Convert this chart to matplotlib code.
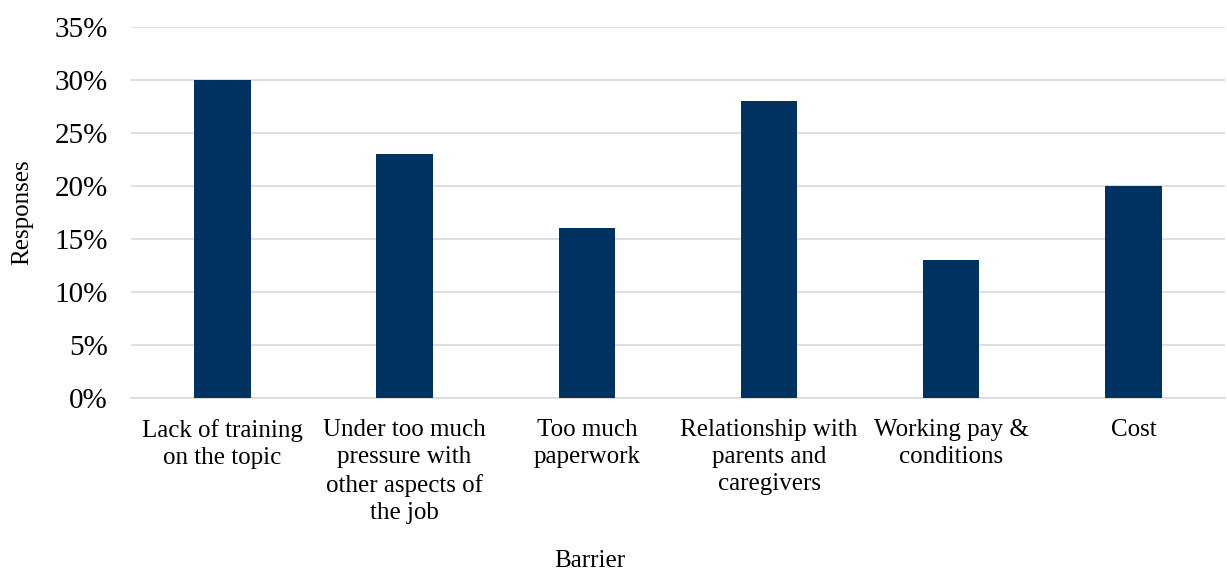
import matplotlib.pyplot as plt
from matplotlib.ticker import PercentFormatter

plt.rcParams['font.family'] = ['Liberation Serif', 'DejaVu Serif']

# Chart data
barriers = [
    "Lack of training\non the topic",
    "Under too much\npressure with\nother aspects of\nthe job",
    "Too much\npaperwork",
    "Relationship with\nparents and\ncaregivers",
    "Working pay &\nconditions",
    "Cost",
]
responses = [30, 23, 16, 28, 13, 20]

fig = plt.figure(figsize=(12.27, 5.73), dpi=100)
ax = fig.add_axes([0.107, 0.305, 0.891, 0.648])

x = range(len(barriers))
ax.bar(x, responses, width=0.31, color='#003262', zorder=3)

ax.set_xlim(-0.5, len(barriers) - 0.5)
ax.set_ylim(0, 35)
ax.set_yticks(range(0, 36, 5))
ax.yaxis.set_major_formatter(PercentFormatter(decimals=0))
ax.set_xticks(list(x))
ax.set_xticklabels(barriers, fontsize=18, linespacing=1.3)
ax.tick_params(axis='y', labelsize=21, length=0, pad=17)
ax.tick_params(axis='x', length=0, pad=15)

ax.grid(axis='y', color='#d9d9d9', linewidth=1.2, zorder=0)
for side in ['top', 'right', 'left']:
    ax.spines[side].set_visible(False)
ax.spines['bottom'].set_color('#d9d9d9')
ax.spines['bottom'].set_linewidth(1.2)

ax.set_ylabel("Responses", fontsize=18, labelpad=15)
fig.text(0.481, 0.002, "Barrier", fontsize=18, ha='center', va='bottom')

fig.savefig("out.png", dpi=100)
